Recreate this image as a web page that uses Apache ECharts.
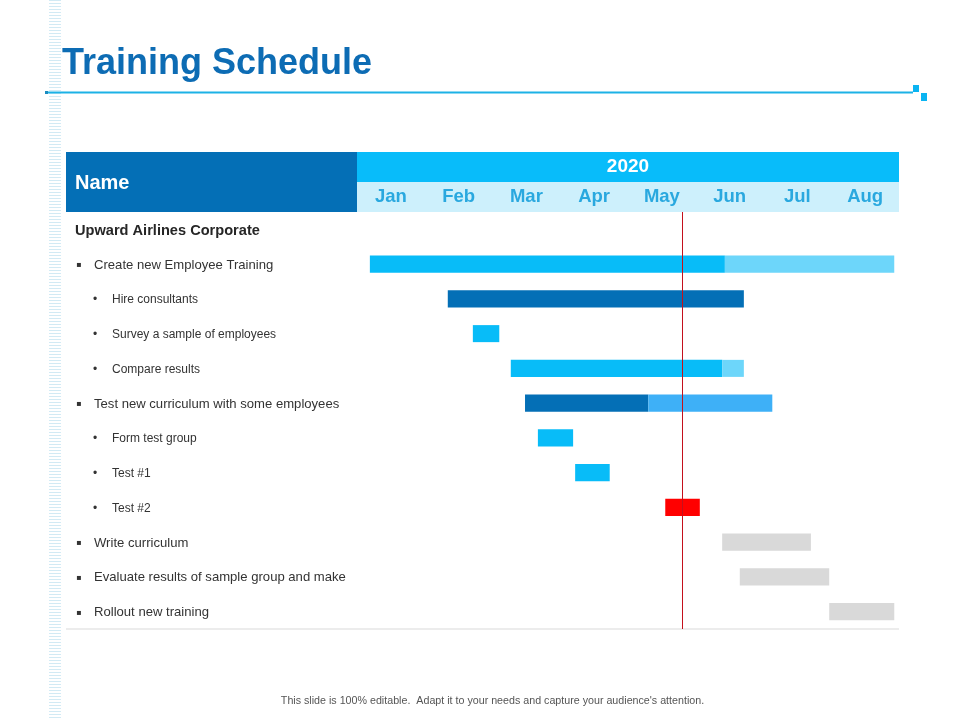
<!DOCTYPE html>
<html><head><meta charset="utf-8">
<script src="https://cdn.jsdelivr.net/npm/echarts/dist/echarts.min.js"></script>
<style>html,body{margin:0;padding:0;background:#fff}#c{width:960px;height:720px}</style>
</head><body><div id="c"></div>
<script>
// ---- data ----
const titleText = 'Training Schedule';
const year = '2020';
const months = ['Jan','Feb','Mar','Apr','May','Jun','Jul','Aug'];
const tasks = [
  'Upward Airlines Corporate',
  'Create new Employee Training',
  'Hire consultants',
  'Survey a sample of employees',
  'Compare results',
  'Test new curriculum with some employees',
  'Form test group',
  'Test #1',
  'Test #2',
  'Write curriculum',
  'Evaluate results of sample group and make',
  'Rollout new training'
];
const taskLevel = [0,1,2,2,2,1,2,2,2,1,1,1];
// bar segments (month units, 0 = start of Jan)
const segRow   = [1,    1,    2,    3,    4,    4,    5,    5,    6,    7,    8,    9,    10,   11];
const segStart = [0.19, 5.43, 1.34, 1.71, 2.27, 5.39, 2.48, 4.30, 2.67, 3.22, 4.55, 5.39, 5.65, 6.97];
const segEnd   = [5.43, 7.93, 5.71, 2.10, 5.39, 5.71, 4.30, 6.13, 3.19, 3.73, 5.06, 6.70, 6.97, 7.93];
const segKind  = ['done','todo','dark','done','done','todo','dark','mid','done','done','late','plan','plan','plan'];
const todayMark = 4.80;
const footerText = "This slide is 100% editable.  Adapt it to your needs and capture your audience's attention.";

// ---- styles ----
const FONT = '"Liberation Sans", Arial, Helvetica, sans-serif';
const kindColor = {done:'#08bcf8', todo:'#6dd6fa', dark:'#046fb6', mid:'#3eb0f7', late:'#ff0000', plan:'#d9d9d9'};

const segData = segRow.map((r,i)=>[r, segStart[i], segEnd[i]]);

// decorative left stripe
const stripe = [];
for (let y = 0; y < 720; y += 3) {
  stripe.push({type:'rect', silent:true, shape:{x:49,y:y,width:12,height:1}, style:{fill:'#d2eaf4'}});
}

const chart = echarts.init(document.getElementById('c'), null, {renderer:'canvas'});
chart.setOption({
  backgroundColor:'#ffffff',
  animation:false,
  textStyle:{fontFamily:FONT},
  title:{
    text:titleText, left:62, top:46, padding:0,
    textStyle:{fontFamily:FONT, fontSize:36, fontWeight:'bold', color:'#0d6cb4'}
  },
  grid:{left:357, right:61, top:212, bottom:91},
  xAxis:[
    {type:'value', min:0, max:8, show:false},
    {type:'category', position:'top', data:months, boundaryGap:true, z:10,
     axisLine:{show:false}, axisTick:{show:false}, splitLine:{show:false},
     axisLabel:{interval:0, margin:15, verticalAlign:'middle', fontFamily:FONT,
       fontSize:18.5, fontWeight:'bold', color:'#29a8df'}}
  ],
  yAxis:{
    type:'category', inverse:true, data:tasks,
    axisLine:{show:false}, axisTick:{show:false}, splitLine:{show:false},
    axisLabel:{
      interval:0, margin:282, align:'left', fontFamily:FONT,
      formatter:function(v, i){
        const lv = taskLevel[i];
        if (lv === 0) return '{h|' + v + '}';
        if (lv === 1) return '{sq|\u25AA}{t1|' + v + '}';
        return '{pad| }{dot|\u2022}{t2|' + v + '}';
      },
      rich:{
        h:{fontFamily:FONT, fontSize:14.6, fontWeight:'bold', color:'#262626', padding:[3,0,0,0]},
        sq:{fontFamily:'"DejaVu Sans", sans-serif', fontSize:8, color:'#333', width:18, padding:[2,0,0,1]},
        t1:{fontFamily:FONT, fontSize:13.1, color:'#333', padding:[2,0,0,0]},
        pad:{width:18, fontSize:12},
        dot:{fontFamily:FONT, fontSize:12, color:'#333', width:19, padding:[2,0,0,0]},
        t2:{fontFamily:FONT, fontSize:12, color:'#333', padding:[2,0,0,0]}
      }
    }
  },
  series:[{
    type:'custom',
    xAxisIndex:0,
    encode:{x:[1,2], y:0},
    data:segData,
    z:3,
    renderItem:function(params, api){
      const row = api.value(0);
      const s = api.coord([api.value(1), row]);
      const e = api.coord([api.value(2), row]);
      const h = api.size([0,1])[1] * 0.49;
      return {type:'rect', shape:{x:s[0], y:s[1]-h/2, width:e[0]-s[0], height:h},
              style:{fill:kindColor[segKind[params.dataIndex]]}};
    },
    markLine:{
      silent:true, symbol:'none', z:5,
      label:{show:false},
      lineStyle:{color:'#c4101c', width:1, type:'solid'},
      data:[{xAxis:todayMark}]
    }
  }],
  graphic:[
    {type:'group', silent:true, children:stripe},
    // title rule
    {type:'rect', silent:true, shape:{x:48,y:91.5,width:865,height:2}, style:{fill:'#1cb2e6'}},
    {type:'rect', silent:true, shape:{x:45,y:91,width:3,height:3}, style:{fill:'#1a8cc0'}},
    {type:'rect', silent:true, shape:{x:913,y:85,width:6,height:7}, style:{fill:'#0ab4f2'}},
    {type:'rect', silent:true, shape:{x:921,y:93,width:6,height:8}, style:{fill:'#0ab4f2'}},
    // header
    {type:'rect', silent:true, z:-1, shape:{x:66,y:152,width:291,height:60}, style:{fill:'#046fb6'}},
    {type:'rect', silent:true, z:-1, shape:{x:357,y:152,width:542,height:30}, style:{fill:'#08bcfa'}},
    {type:'rect', silent:true, z:-1, shape:{x:357,y:182,width:542,height:30}, style:{fill:'#cdf0fc'}},
    {type:'text', silent:true, z:10, style:{x:75, y:183, text:'Name', fill:'#ffffff',
      font:'bold 20px ' + FONT, textVerticalAlign:'middle', textAlign:'left'}},
    {type:'text', silent:true, z:10, style:{x:628, y:167, text:year, fill:'#ffffff',
      font:'bold 19px ' + FONT, textVerticalAlign:'middle', textAlign:'center'}},
    // bottom rule
    {type:'rect', silent:true, shape:{x:66,y:628.5,width:833,height:1}, style:{fill:'#d9d9d9'}},
    // footer
    {type:'text', silent:true, style:{x:492.5, y:701, text:footerText, fill:'#555555',
      font:'10.7px ' + FONT, textVerticalAlign:'middle', textAlign:'center'}}
  ]
});
</script>
</body></html>
